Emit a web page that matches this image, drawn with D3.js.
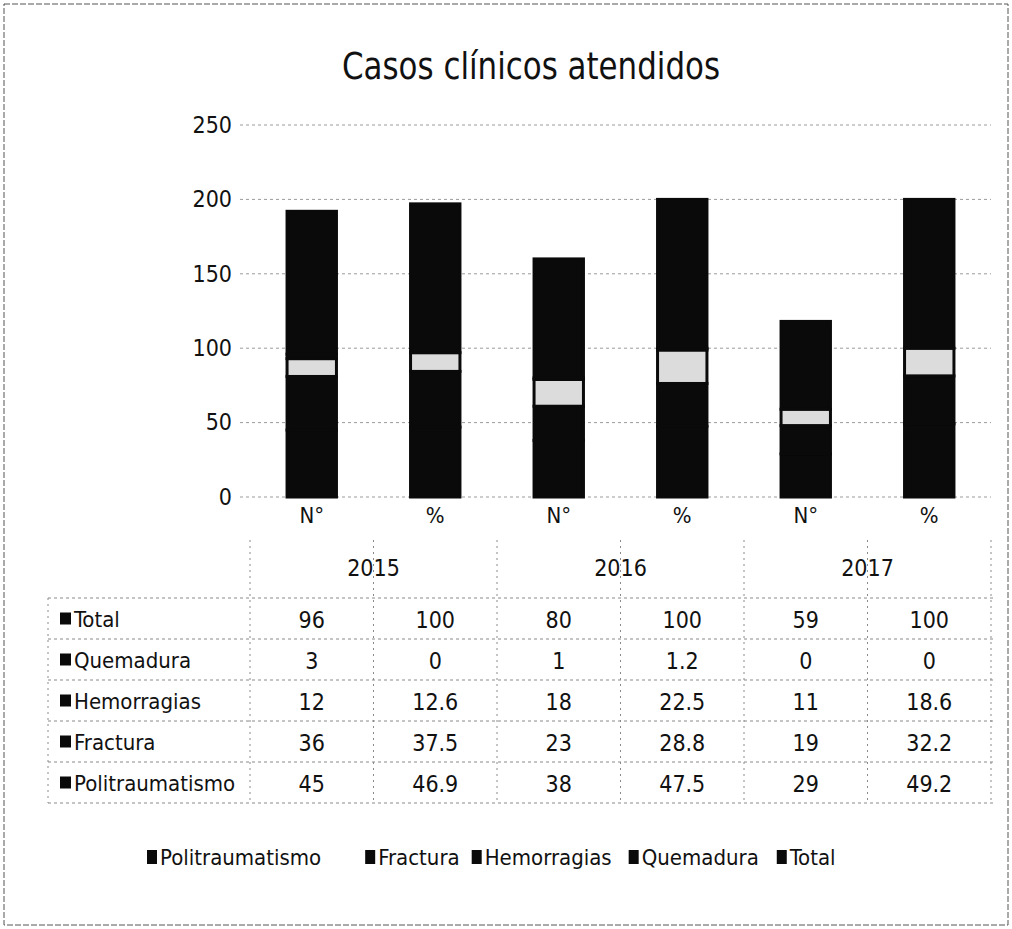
<!DOCTYPE html>
<html>
<head>
<meta charset="utf-8">
<script src="https://cdn.jsdelivr.net/npm/d3@7"></script>
<style>
  body { margin: 0; background: #fff; }
  text { font-family: "Liberation Sans Narrow", "DejaVu Sans Condensed", "Liberation Sans", sans-serif; fill: #111; }
</style>
</head>
<body>
<div id="chart"></div>
<script>
// Data
var years = ["2015", "2016", "2017"];
var measures = ["N°", "%"];
var seriesNames = ["Politraumatismo", "Fractura", "Hemorragias", "Quemadura", "Total"];
// one value per column: 2015 N°, 2015 %, 2016 N°, 2016 %, 2017 N°, 2017 %
var politraumatismo = [45, 46.9, 38, 47.5, 29, 49.2];
var fractura        = [36, 37.5, 23, 28.8, 19, 32.2];
var hemorragias     = [12, 12.6, 18, 22.5, 11, 18.6];
var quemadura       = [3, 0, 1, 1.2, 0, 0];
var total           = [96, 100, 80, 100, 59, 100];
var yTicks = [0, 50, 100, 150, 200, 250];

var seriesValues = [politraumatismo, fractura, hemorragias, quemadura, total];
var seriesColors = ["#0a0a0a", "#0a0a0a", "#dcdcdc", "#0a0a0a", "#0a0a0a"];

var width = 1012, height = 929;

var columns = [];
years.forEach(function(yr) {
  measures.forEach(function(m) { columns.push(yr + "|" + m); });
});

var rows = columns.map(function(c, i) {
  var r = { col: c };
  seriesNames.forEach(function(s, j) { r[s] = seriesValues[j][i]; });
  return r;
});

var svg = d3.select("#chart").append("svg")
  .attr("width", width)
  .attr("height", height);

// outer frame of the scanned page
svg.append("rect")
  .attr("x", 4).attr("y", 4)
  .attr("width", width - 8).attr("height", height - 8)
  .attr("fill", "none")
  .attr("stroke", "#555")
  .attr("stroke-width", 1)
  .attr("stroke-dasharray", "6,2");

// Scales
var x = d3.scaleBand().domain(columns).range([250, 991])
  .paddingInner(0.6).paddingOuter(0.3);
var y = d3.scaleLinear().domain([0, 250]).range([497, 125]);
var color = d3.scaleOrdinal().domain(seriesNames).range(seriesColors);

// Title
svg.append("text")
  .attr("x", 531).attr("y", 79)
  .attr("text-anchor", "middle")
  .attr("textLength", 378)
  .attr("lengthAdjust", "spacingAndGlyphs")
  .style("font-size", "38px")
  .text("Casos clínicos atendidos");

// Grid
svg.append("g").selectAll("line")
  .data(yTicks)
  .enter().append("line")
  .attr("x1", 240).attr("x2", 991)
  .attr("y1", function(d) { return y(d); })
  .attr("y2", function(d) { return y(d); })
  .attr("stroke", "#9a9a9a")
  .attr("stroke-width", 1)
  .attr("stroke-dasharray", "3,3");

// Y axis
var yAxis = d3.axisLeft(y).tickValues(yTicks).tickSize(0).tickPadding(0);
var gy = svg.append("g")
  .attr("transform", "translate(232,0)")
  .call(yAxis);
gy.select(".domain").remove();
gy.selectAll("text")
  .style("font-size", "23px")
  .style("font-family", "'Liberation Sans Narrow', 'DejaVu Sans Condensed', sans-serif")
  .attr("fill", "#111");

// Stacked bars
var stack = d3.stack().keys(seriesNames);
var layers = stack(rows);

svg.append("g").selectAll("g")
  .data(layers)
  .enter().append("g")
  .attr("fill", function(d) { return color(d.key); })
  .selectAll("rect")
  .data(function(d) { return d; })
  .enter().append("rect")
  .filter(function(d) { return d[1] > d[0]; })
  .attr("x", function(d) { return x(d.data.col); })
  .attr("width", x.bandwidth())
  .attr("y", function(d) { return y(d[1]); })
  .attr("height", function(d) { return y(d[0]) - y(d[1]); })
  .attr("stroke", "#0a0a0a")
  .attr("stroke-width", 3);

// X axis: measure labels
var xAxis = d3.axisBottom(x).tickSize(0).tickPadding(0)
  .tickFormat(function(d) { return d.split("|")[1]; });
var gx = svg.append("g")
  .attr("transform", "translate(0,507)")
  .call(xAxis);
gx.select(".domain").remove();
gx.selectAll("text")
  .style("font-size", "22px")
  .style("font-family", "'Liberation Sans Narrow', 'DejaVu Sans Condensed', sans-serif")
  .attr("fill", "#111");

// Year labels
var step = x.step();
var x0 = x.range()[0];
svg.append("g").selectAll("text")
  .data(years)
  .enter().append("text")
  .attr("x", function(d, i) { return x0 + step * (2 * i + 1); })
  .attr("y", 576)
  .attr("text-anchor", "middle")
  .style("font-size", "23px")
  .text(function(d) { return d; });

// Data table
var tableTop = 598, rowH = 41, tableLeft = 48;
var tableRows = seriesNames.slice().reverse();
var table = svg.append("g");

// horizontal lines
table.selectAll("line.h")
  .data(d3.range(tableRows.length + 1))
  .enter().append("line")
  .attr("class", "h")
  .attr("x1", tableLeft).attr("x2", 995)
  .attr("y1", function(d) { return tableTop + d * rowH; })
  .attr("y2", function(d) { return tableTop + d * rowH; })
  .attr("stroke", "#8a8a8a")
  .attr("stroke-dasharray", "3,3");

// vertical lines
var vx = [tableLeft].concat(d3.range(columns.length + 1).map(function(i) { return x0 + i * step; }));
table.selectAll("line.v")
  .data(vx)
  .enter().append("line")
  .attr("class", "v")
  .attr("x1", function(d) { return d; }).attr("x2", function(d) { return d; })
  .attr("y1", function(d, i) { return i === 0 ? tableTop : 540; })
  .attr("y2", tableTop + rowH * tableRows.length)
  .attr("stroke", "#8a8a8a")
  .attr("stroke-dasharray", "2,4");

var tr = table.selectAll("g.row")
  .data(tableRows)
  .enter().append("g")
  .attr("class", "row")
  .attr("transform", function(d, i) { return "translate(0," + (tableTop + i * rowH + rowH / 2) + ")"; });

tr.append("rect")
  .attr("x", 60).attr("y", -6)
  .attr("width", 11).attr("height", 12)
  .attr("fill", "#0a0a0a");

tr.append("text")
  .attr("x", 74).attr("y", 8)
  .style("font-size", "22px")
  .text(function(d) { return d; });

tr.selectAll("text.val")
  .data(function(s) {
    var vals = seriesValues[seriesNames.indexOf(s)];
    return columns.map(function(c, i) { return { col: c, v: vals[i] }; });
  })
  .enter().append("text")
  .attr("class", "val")
  .attr("x", function(d) { return x(d.col) + x.bandwidth() / 2; })
  .attr("y", 9)
  .attr("text-anchor", "middle")
  .style("font-size", "23px")
  .text(function(d) { return d.v; });

// Legend
var legend = svg.append("g").attr("transform", "translate(0,857)");
var items = legend.selectAll("g")
  .data(seriesNames)
  .enter().append("g");
items.append("rect")
  .attr("x", 0).attr("y", -7)
  .attr("width", 10).attr("height", 14)
  .attr("fill", "#0a0a0a");
items.append("text")
  .attr("x", 13).attr("y", 8)
  .style("font-size", "22px")
  .text(function(d) { return d; });

var gaps = [44, 12, 17, 18], cursor = 147, widths = [];
items.each(function() { widths.push(this.getBBox().width); });
items.attr("transform", function(d, i) {
  var t = "translate(" + cursor + ",0)";
  cursor += widths[i] + (gaps[i] || 0);
  return t;
});
</script>
</body>
</html>
